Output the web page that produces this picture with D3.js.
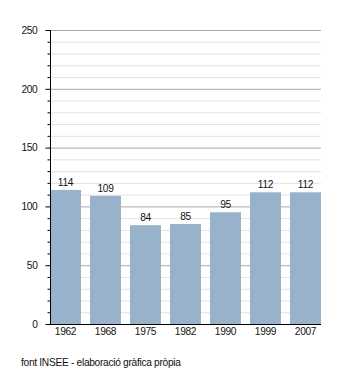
<!DOCTYPE html>
<html><head><meta charset="utf-8">
<script src="https://cdn.jsdelivr.net/npm/d3@7"></script>
<style>body{margin:0;background:#fff}svg{display:block}text{font-family:"Liberation Sans",Arial,sans-serif;fill:#111;letter-spacing:-0.3px}</style>
</head><body>
<svg id="c" width="350" height="373"></svg>
<script>
const years = ["1962","1968","1975","1982","1990","1999","2007"];
const values = [114,109,84,85,95,112,112];
const majorTicks = [0,50,100,150,200,250];
const source = "font INSEE - elaboració gràfica pròpia";

const FS = 10.2;
const svg = d3.select("#c");
const x = d3.scaleBand().domain(years).range([50,321]).paddingInner(0.225).paddingOuter(0);
const y = d3.scaleLinear().domain([0,250]).range([324,30]);
const minor = d3.range(0,251,10).filter(v=>v%50!==0);

svg.append("g").selectAll("line").data(minor).join("line")
  .attr("x1",50).attr("x2",321).attr("y1",d=>y(d)+0.5).attr("y2",d=>y(d)+0.5)
  .attr("stroke","#e2e2e2").attr("stroke-width",1);
svg.append("g").selectAll("line").data(majorTicks.filter(d=>d>0)).join("line")
  .attr("x1",50).attr("x2",321).attr("y1",d=>y(d)+0.5).attr("y2",d=>y(d)+0.5)
  .attr("stroke","#aaaaaa").attr("stroke-width",1);

svg.append("g").selectAll("rect").data(values).join("rect")
  .attr("x",(d,i)=>x(years[i])).attr("width",x.bandwidth())
  .attr("y",d=>y(d)).attr("height",d=>y(0)-y(d)).attr("fill","#98b2cc");

svg.append("g").selectAll("text").data(values).join("text")
  .attr("x",(d,i)=>x(years[i])+x.bandwidth()/2).attr("y",d=>y(d)-4)
  .attr("text-anchor","middle").attr("font-size",FS).text(d=>d);

// y axis
const ya = svg.append("g").attr("transform","translate(50.5,0)");
ya.call(d3.axisLeft(y).tickValues(majorTicks).tickSize(5).tickPadding(8).tickFormat(d3.format("d")));
ya.selectAll(".tick text").attr("font-size",FS).style("font-family",'"Liberation Sans",Arial,sans-serif');
ya.select(".domain").remove();
ya.selectAll(".tick line").attr("stroke","#000");
ya.append("g").selectAll("line").data(minor).join("line")
  .attr("x1",-3).attr("x2",0).attr("y1",d=>y(d)+0.5).attr("y2",d=>y(d)+0.5).attr("stroke","#000");
ya.append("line").attr("x1",0).attr("x2",0).attr("y1",y(250)).attr("y2",y(0)+1).attr("stroke","#000");

// x axis
const xa = svg.append("g").attr("transform","translate(0,324.5)");
xa.call(d3.axisBottom(x).tickSize(0).tickPadding(3));
xa.select(".domain").remove();
xa.selectAll(".tick text").attr("font-size",FS).style("font-family",'"Liberation Sans",Arial,sans-serif');
xa.append("line").attr("x1",50).attr("x2",321).attr("stroke","#000");

svg.append("text").attr("x",21).attr("y",366).attr("font-size",FS).text(source);
</script>
</body></html>
